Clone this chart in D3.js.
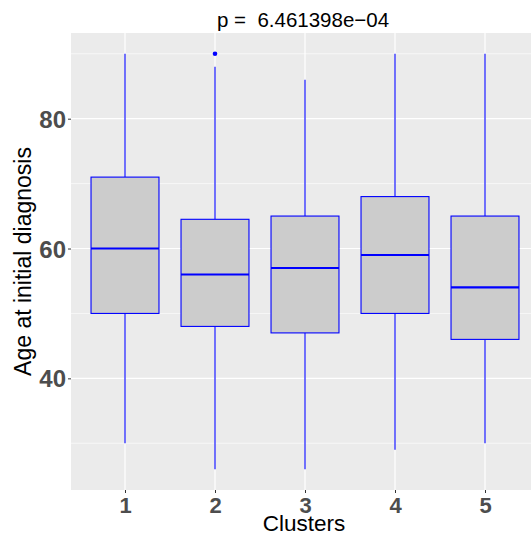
<!DOCTYPE html>
<html>
<head>
<meta charset="utf-8">
<script src="https://d3js.org/d3.v7.min.js"></script>
<style>
  body { margin: 0; background: #fff; }
  text { font-family: "Liberation Sans", Arial, sans-serif; }
</style>
</head>
<body>
<svg id="chart" width="531" height="538"></svg>
<script>
// box statistics
const clusters = ['1', '2', '3', '4', '5'];
const lowWhisker = [30, 26, 26, 29, 30];
const q1 = [50, 48, 47, 50, 46];
const medians = [60, 56, 57, 59, 54];
const q3 = [71, 64.5, 65, 68, 65];
const highWhisker = [90, 88, 86, 90, 90];
const outliers = [{ cluster: '2', value: 90 }];
const yTicks = [40, 60, 80];
const yMinor = [30, 50, 70, 90];
const pTitle = 'p =  6.461398e\u221204';

const svg = d3.select('#chart');
const panel = { left: 71, right: 539, top: 33, bottom: 490 };
const clipW = 531;

const y = d3.scaleLinear().domain([22.8, 93.2]).range([panel.bottom, panel.top]);
const x = d3.scalePoint().domain(clusters).range([panel.left, panel.right]).padding(0.6);
const step = x.step();
const boxW = step * 0.755;

svg.append('clipPath').attr('id', 'clip')
  .append('rect').attr('x', panel.left).attr('y', panel.top)
  .attr('width', clipW - panel.left).attr('height', panel.bottom - panel.top);

const g = svg.append('g').attr('clip-path', 'url(#clip)');

g.append('rect')
  .attr('x', panel.left).attr('y', panel.top)
  .attr('width', panel.right - panel.left).attr('height', panel.bottom - panel.top)
  .attr('fill', '#EBEBEB');

// minor grid
g.selectAll('.minor').data(yMinor).enter().append('line')
  .attr('x1', panel.left).attr('x2', panel.right)
  .attr('y1', d => y(d)).attr('y2', d => y(d))
  .attr('stroke', '#fff').attr('stroke-width', 0.6);

// major grid
g.selectAll('.majy').data(yTicks).enter().append('line')
  .attr('x1', panel.left).attr('x2', panel.right)
  .attr('y1', d => y(d)).attr('y2', d => y(d))
  .attr('stroke', '#fff').attr('stroke-width', 1.2);
g.selectAll('.majx').data(clusters).enter().append('line')
  .attr('y1', panel.top).attr('y2', panel.bottom)
  .attr('x1', d => x(d)).attr('x2', d => x(d))
  .attr('stroke', '#fff').attr('stroke-width', 1.2);

const rows = clusters.map((c, i) => ({
  c, lo: lowWhisker[i], q1: q1[i], med: medians[i], q3: q3[i], hi: highWhisker[i]
}));

const box = g.selectAll('.box').data(rows).enter().append('g');
box.append('line')
  .attr('x1', d => x(d.c)).attr('x2', d => x(d.c))
  .attr('y1', d => y(d.hi)).attr('y2', d => y(d.q3))
  .attr('stroke', '#0000FF').attr('stroke-width', 1.1);
box.append('line')
  .attr('x1', d => x(d.c)).attr('x2', d => x(d.c))
  .attr('y1', d => y(d.q1)).attr('y2', d => y(d.lo))
  .attr('stroke', '#0000FF').attr('stroke-width', 1.1);
box.append('rect')
  .attr('x', d => x(d.c) - boxW / 2).attr('width', boxW)
  .attr('y', d => y(d.q3)).attr('height', d => y(d.q1) - y(d.q3))
  .attr('fill', '#CCCCCC').attr('stroke', '#0000FF').attr('stroke-width', 1.1);
box.append('line')
  .attr('x1', d => x(d.c) - boxW / 2).attr('x2', d => x(d.c) + boxW / 2)
  .attr('y1', d => y(d.med)).attr('y2', d => y(d.med))
  .attr('stroke', '#0000FF').attr('stroke-width', 2.2);

g.selectAll('.out').data(outliers).enter().append('circle')
  .attr('cx', d => x(d.cluster)).attr('cy', d => y(d.value)).attr('r', 2.3)
  .attr('fill', '#0000FF');

// axes
const yAxis = svg.append('g').attr('transform', `translate(${panel.left},0)`)
  .call(d3.axisLeft(y).tickValues(yTicks).tickSize(3).tickPadding(2));
const xAxis = svg.append('g').attr('transform', `translate(0,${panel.bottom})`)
  .call(d3.axisBottom(x).tickSize(3).tickPadding(4));
[yAxis, xAxis].forEach(a => {
  a.select('.domain').remove();
  a.selectAll('.tick line').attr('stroke', '#333').attr('stroke-width', 1);
  a.selectAll('.tick text')
    .attr('fill', '#4D4D4D').attr('font-size', 24).attr('font-weight', 'bold')
    .style('font-family', '"Liberation Sans", Arial, sans-serif');
});
xAxis.selectAll('.tick text').attr('font-size', 22);
yAxis.selectAll('.tick text').attr('dy', '0.36em');

svg.append('text')
  .attr('x', 303).attr('y', 27)
  .attr('text-anchor', 'middle').attr('font-size', 20.5).attr('fill', '#000')
  .style('white-space', 'pre')
  .text(pTitle);

svg.append('text')
  .attr('x', 304).attr('y', 531)
  .attr('text-anchor', 'middle').attr('font-size', 22.5).attr('fill', '#000')
  .text('Clusters');

svg.append('text')
  .attr('transform', `translate(31,${(panel.top + panel.bottom) / 2}) rotate(-90)`)
  .attr('text-anchor', 'middle').attr('font-size', 23).attr('fill', '#000')
  .text('Age at initial diagnosis');
</script>
</body>
</html>
